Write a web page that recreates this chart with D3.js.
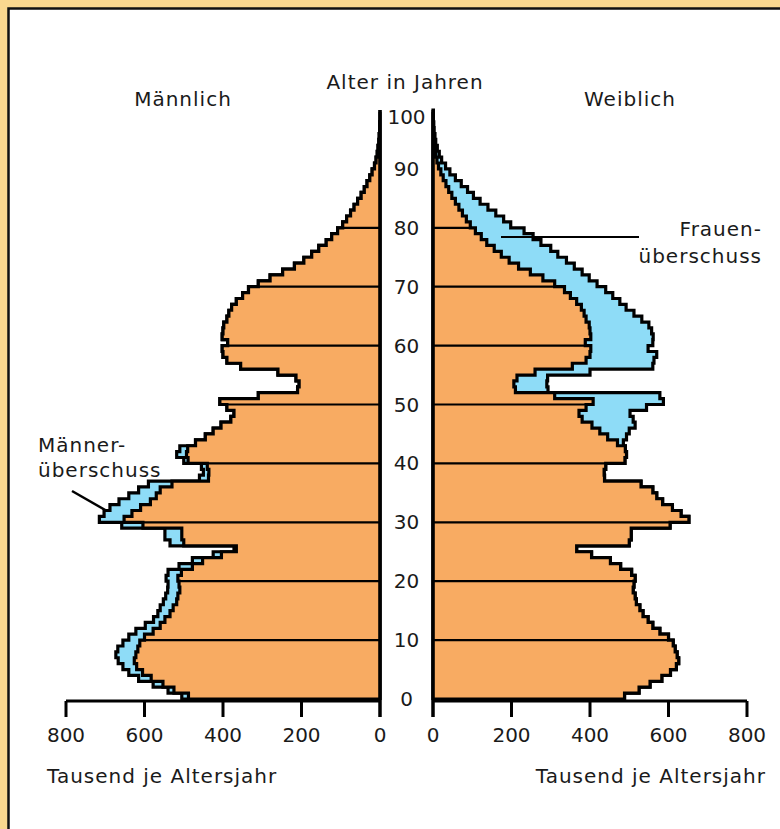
<!DOCTYPE html>
<html>
<head>
<meta charset="utf-8">
<script src="https://cdn.jsdelivr.net/npm/d3@7"></script>
<style>
  body { margin: 0; background: #fad88f; }
  svg text { font-family: "DejaVu Sans", sans-serif; fill: #1a1a1a; }
</style>
</head>
<body>
<div id="chart"></div>
<script>
// Altersaufbau, Tausend je Altersjahr, Alter 0..99
const ages = d3.range(0, 100);

const maleValues = [
  505, 540, 578, 615, 640, 655, 667, 673, 668, 655,
  640, 622, 598, 577, 566, 560, 552, 546, 541, 540,
  545, 540, 512, 478, 425, 372, 535, 548, 548, 658,
  715, 703, 688, 665, 640, 615, 590, 460, 450, 455,
  500, 518, 510, 470, 445, 425, 405, 380, 372, 390,
  408, 310, 210, 206, 214, 260, 355, 390, 400, 402,
  388, 402, 400, 398, 390, 385, 378, 366, 350, 335,
  310, 280, 248, 218, 194, 174, 156, 137, 123, 108,
  95, 85, 75, 66, 57, 48, 40, 33, 26, 20,
  14, 10, 7, 5, 3, 2, 1, 1, 0, 0
];

const femaleValues = [
  488, 525, 553, 583, 605, 620, 626, 622, 617, 612,
  600, 578, 560, 548, 535, 527, 518, 515, 510, 512,
  515, 506, 478, 452, 404, 366, 500, 505, 505, 604,
  652, 632, 610, 585, 570, 560, 530, 437, 436, 440,
  489, 493, 490, 485, 493, 500, 515, 510, 502, 544,
  587, 578, 293, 290, 292, 400, 560, 563, 570, 548,
  560, 561, 557, 550, 532, 512, 492, 476, 458, 440,
  418, 398, 380, 360, 340, 318, 300, 275, 255, 232,
  198, 180, 160, 140, 120, 103, 88, 72, 57, 43,
  32, 22, 16, 11, 7, 5, 3, 2, 1, 1
];

const ageTicks = [0, 10, 20, 30, 40, 50, 60, 70, 80, 90, 100];
const gridAges = [10, 20, 30, 40, 50, 60, 70, 80];
const valueTicks = [0, 200, 400, 600, 800];

const W = 780, H = 829;
const orange = "#f8ab62", blue = "#8edcf7";

const svg = d3.select("#chart").append("svg")
    .attr("width", W)
    .attr("height", H);

// frame
svg.append("rect").attr("width", W).attr("height", H).attr("fill", "#fad88f");
svg.append("rect")
    .attr("x", 8.5).attr("y", 8.5)
    .attr("width", 900).attr("height", 900)
    .attr("fill", "#ffffff")
    .attr("stroke", "#111").attr("stroke-width", 2.5);

const y = d3.scaleLinear().domain([0, 100]).range([699, 110]);
const xLeft = d3.scaleLinear().domain([0, 800]).range([380, 66]);
const xRight = d3.scaleLinear().domain([0, 800]).range([433, 747]);

// step outline of a pyramid half
function stepPath(values, xs) {
    let pts = [[xs(0), y(0)]];
    ages.forEach(function(a, i) {
        pts.push([xs(values[i]), y(a)]);
        pts.push([xs(values[i]), y(a + 1)]);
    });
    pts.push([xs(0), y(100)]);
    return d3.line()(pts) + "Z";
}

const minValues = ages.map(function(a, i) { return Math.min(maleValues[i], femaleValues[i]); });

function drawHalf(values, xs, id) {
    let g = svg.append("g");
    // own total (surplus shows blue)
    g.append("path")
        .attr("d", stepPath(values, xs))
        .attr("fill", blue)
        .attr("stroke", "#000").attr("stroke-width", 3.2)
        .attr("stroke-linejoin", "miter");
    // common part
    g.append("clipPath").attr("id", id)
        .append("path").attr("d", stepPath(minValues, xs));
    g.append("path")
        .attr("d", stepPath(minValues, xs))
        .attr("fill", orange);
    g.append("g").attr("clip-path", "url(#" + id + ")")
        .selectAll("line").data(gridAges).enter()
        .append("line")
        .attr("x1", xs(0)).attr("x2", xs(800))
        .attr("y1", function(d) { return y(d); })
        .attr("y2", function(d) { return y(d); })
        .attr("stroke", "#000").attr("stroke-width", 2.2);
    g.append("path")
        .attr("d", stepPath(minValues, xs))
        .attr("fill", "none")
        .attr("stroke", "#000").attr("stroke-width", 3.2)
        .attr("stroke-linejoin", "miter");
}

drawHalf(maleValues, xLeft, "clipM");
drawHalf(femaleValues, xRight, "clipF");

// axes
function drawAxis(xs) {
    svg.append("line")
        .attr("x1", xs(0)).attr("x2", xs(0))
        .attr("y1", y(100) + 2).attr("y2", 717)
        .attr("stroke", "#000").attr("stroke-width", 3);
    svg.append("line")
        .attr("x1", xs(0)).attr("x2", xs(800))
        .attr("y1", 701).attr("y2", 701)
        .attr("stroke", "#000").attr("stroke-width", 3);
    svg.selectAll(null).data(valueTicks).enter()
        .append("line")
        .attr("x1", function(d) { return xs(d); })
        .attr("x2", function(d) { return xs(d); })
        .attr("y1", 701).attr("y2", 717)
        .attr("stroke", "#000").attr("stroke-width", 3);
    svg.selectAll(null).data(valueTicks).enter()
        .append("text")
        .attr("x", function(d) { return xs(d); })
        .attr("y", 742)
        .attr("text-anchor", "middle")
        .attr("font-size", 20)
        .text(function(d) { return d; });
}
drawAxis(xLeft);
drawAxis(xRight);

// age labels between the axes
svg.selectAll(null).data(ageTicks).enter()
    .append("text")
    .attr("x", 406.5)
    .attr("y", function(d) { return y(d) + (d == 100 ? 14 : 7); })
    .attr("text-anchor", "middle")
    .attr("font-size", 20)
    .text(function(d) { return d; });

// titles
function label(x, yy, t, anchor) {
    svg.append("text")
        .attr("x", x).attr("y", yy)
        .attr("text-anchor", anchor || "start")
        .attr("font-size", 20)
        .attr("letter-spacing", 1)
        .text(t);
}
label(183, 106, "Männlich", "middle");
label(405, 89, "Alter in Jahren", "middle");
label(630, 106, "Weiblich", "middle");
label(47, 783, "Tausend je Altersjahr");
label(766, 783, "Tausend je Altersjahr", "end");

// annotations
label(38, 452, "Männer-");
label(38, 477, "überschuss");
svg.append("line")
    .attr("x1", 72).attr("y1", 491).attr("x2", 107).attr("y2", 511)
    .attr("stroke", "#000").attr("stroke-width", 2.5);

label(762, 236, "Frauen-", "end");
label(762, 263, "überschuss", "end");
svg.append("line")
    .attr("x1", 501).attr("y1", 237).attr("x2", 639).attr("y2", 237)
    .attr("stroke", "#000").attr("stroke-width", 2);
</script>
</body>
</html>
